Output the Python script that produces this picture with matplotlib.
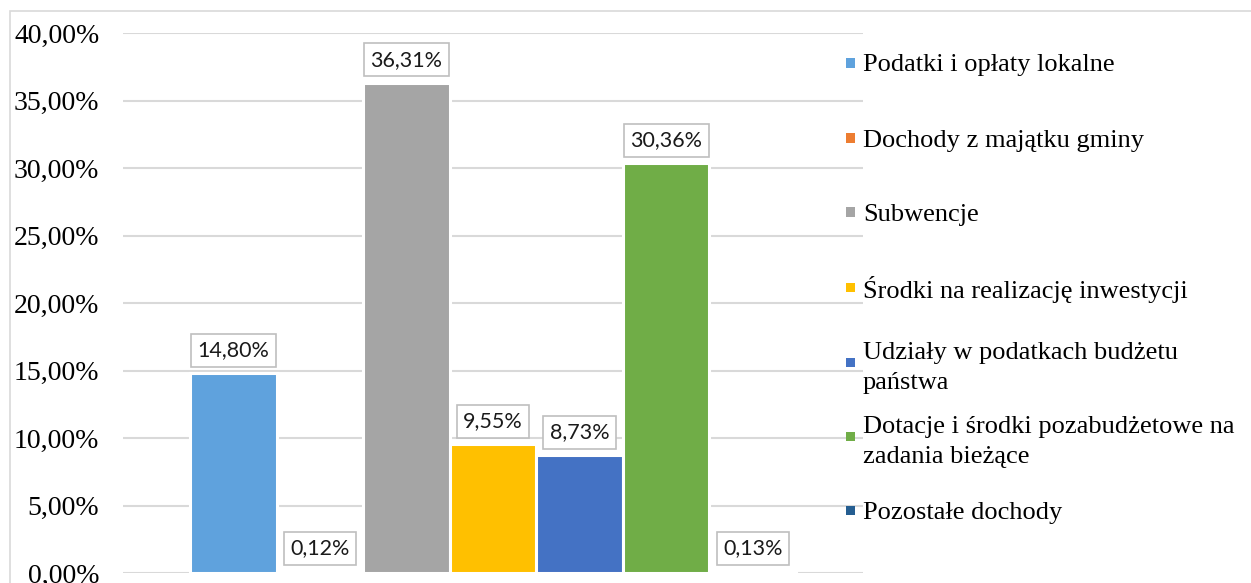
import matplotlib
matplotlib.use("Agg")
import matplotlib.pyplot as plt
from matplotlib.patches import Rectangle
from matplotlib.ticker import FuncFormatter
import numpy as np

# data (share of total revenue, %)
categories = ["Podatki i opłaty lokalne",
              "Dochody z majątku gminy",
              "Subwencje",
              "Środki na realizację inwestycji",
              "Udziały w podatkach budżetu\npaństwa",
              "Dotacje i środki pozabudżetowe na\nzadania bieżące",
              "Pozostałe dochody"]
values = [14.80, 0.12, 36.31, 9.55, 8.73, 30.36, 0.13]
colors = ["#5fa2dd", "#ed7d31", "#a5a5a5", "#ffc000", "#4472c4", "#70ad47", "#255e91"]
yticks = [0, 5, 10, 15, 20, 25, 30, 35, 40]

W, H = 1251, 583
fig = plt.figure(figsize=(W / 100, H / 100), dpi=100)

# outer chart frame (light gray)
fig.add_artist(Rectangle((10 / W, -0.1), 1.2, (H - 11) / H + 0.1,
                         transform=fig.transFigure, fill=False,
                         edgecolor="#d9d9d9", lw=1.2))

ax = fig.add_axes([123 / W, 10 / H, (863 - 123) / W, (573 - 33) / H])
n = len(values)
w = 0.117
x = (np.arange(n) - (n - 1) / 2) * w
ax.bar(x, values, w, color=colors, edgecolor="white", lw=2.2, zorder=3)

for xi, v in zip(x, values):
    ax.annotate(f"{v:.2f}%".replace(".", ","), (xi, v), xytext=(0, 16.5),
                textcoords="offset points", ha="center", va="center",
                fontsize=15.5, family=["Lato", "DejaVu Sans"], color="#1a1a1a",
                bbox=dict(boxstyle="square,pad=0.3", fc="white",
                          ec="#bfbfbf", lw=1.2), zorder=5)

ax.set_xlim(-0.5, 0.5)
ax.set_ylim(0, 40)
ax.set_yticks(yticks)
ax.yaxis.set_major_formatter(FuncFormatter(lambda v, p: f"{v:.2f}%".replace(".", ",")))
ax.set_xticks([])
ax.tick_params(axis="y", length=0, pad=17, labelsize=20)
for lbl in ax.get_yticklabels():
    lbl.set_family("Liberation Serif")
ax.grid(axis="y", color="#d9d9d9", lw=1.5, zorder=0)
for s in ax.spines.values():
    s.set_visible(False)

# legend, drawn as Excel lays it out (marker aligned with first line)
leg_y = [63, 138, 212, 287, 362, 436, 510]
for lab, c, yy in zip(categories, colors, leg_y):
    fig.add_artist(Rectangle((846 / W, (H - yy - 4.5) / H), 9 / W, 9 / H,
                             transform=fig.transFigure, color=c, lw=0))
    fig.text(863 / W, (H - yy) / H, lab, ha="left", va="center_baseline",
             fontsize=19, family="Liberation Serif", linespacing=1.42)

fig.savefig("out.png", dpi=100)
